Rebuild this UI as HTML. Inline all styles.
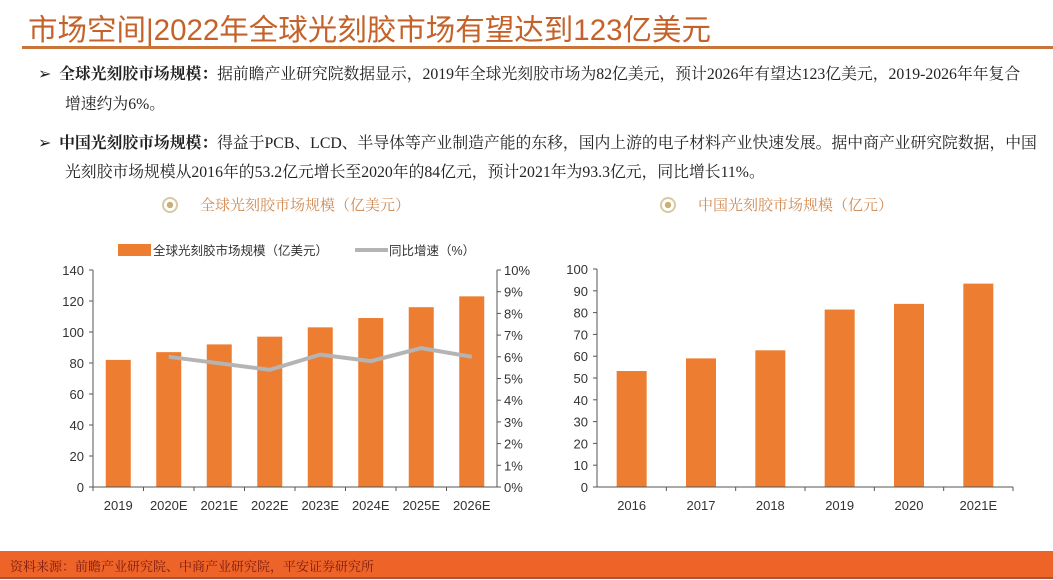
<!DOCTYPE html>
<html><head><meta charset="utf-8"><style>
body{margin:0;width:1053px;height:580px;overflow:hidden;background:#fff;font-family:"Liberation Sans","Noto Sans CJK SC",sans-serif;position:relative}
.abs{position:absolute;white-space:nowrap}
.p{font-family:"Liberation Serif","Noto Serif CJK SC",serif;font-size:15.8px;color:#222}
</style></head><body>
<div class="abs" style="left:28px;top:7px;font-size:29.5px;color:#c4622a;font-family:'Liberation Sans','Noto Sans CJK SC',sans-serif">市场空间|2022年全球光刻胶市场有望达到123亿美元</div>
<div class="abs" style="left:22px;top:46px;width:1031px;height:3px;background:#c8743a"></div>
<div class="abs p" style="left:38px;top:61px">➢&nbsp;&nbsp;<b>全球光刻胶市场规模：</b>据前瞻产业研究院数据显示，2019年全球光刻胶市场为82亿美元，预计2026年有望达123亿美元，2019-2026年年复合</div>
<div class="abs p" style="left:65px;top:91px">增速约为6%。</div>
<div class="abs p" style="left:38px;top:130px">➢&nbsp;&nbsp;<b>中国光刻胶市场规模：</b>得益于PCB、LCD、半导体等产业制造产能的东移，国内上游的电子材料产业快速发展。据中商产业研究院数据，中国</div>
<div class="abs p" style="left:65px;top:159px">光刻胶市场规模从2016年的53.2亿元增长至2020年的84亿元，预计2021年为93.3亿元，同比增长11%。</div>
<div class="abs" style="left:162px;top:194px;font-size:15px;color:#d08a52;font-family:'Liberation Serif','Noto Serif CJK SC',serif"><span style="display:inline-block;width:12px;height:12px;border:2px solid #d8c9a0;border-radius:50%;vertical-align:-3px;margin-right:22px;background:radial-gradient(#c9b07a 35%,#fff 40%)"></span>全球光刻胶市场规模（亿美元）</div>
<div class="abs" style="left:660px;top:194px;font-size:15px;color:#d08a52;font-family:'Liberation Serif','Noto Serif CJK SC',serif"><span style="display:inline-block;width:12px;height:12px;border:2px solid #d8c9a0;border-radius:50%;vertical-align:-3px;margin-right:22px;background:radial-gradient(#c9b07a 35%,#fff 40%)"></span>中国光刻胶市场规模（亿元）</div>
<svg class="abs" style="left:0;top:0" width="1053" height="580" id="svg"></svg>
<div class="abs" style="left:0;top:551px;width:1053px;height:26px;background:#ee6428;border-bottom:2px solid #a8543a"></div>
<div class="abs" style="left:10px;top:556px;font-size:13px;color:#7a1a10;font-family:'Liberation Serif','Noto Serif CJK SC',serif">资料来源：前瞻产业研究院、中商产业研究院，平安证券研究所</div>
<script>
const gCats=["2019","2020E","2021E","2022E","2023E","2024E","2025E","2026E"];
const gVals=[82,87,92,97,103,109,116,123];
const gGrowth=[null,6.0,5.7,5.4,6.1,5.8,6.4,6.0];
const gTicks=[0,20,40,60,80,100,120,140];
const gPctTicks=[0,1,2,3,4,5,6,7,8,9,10];
const cCats=["2016","2017","2018","2019","2020","2021E"];
const cVals=[53.2,59,62.7,81.4,84,93.3];
const cTicks=[0,10,20,30,40,50,60,70,80,90,100];
const svg=document.getElementById('svg');const NS="http://www.w3.org/2000/svg";
function mk(t,a,txt){const e=document.createElementNS(NS,t);for(const k in a)e.setAttribute(k,a[k]);if(txt!=null)e.textContent=txt;svg.appendChild(e);return e;}
const OR="#ed7d31",TX="#333",F="font-family:'Liberation Sans','Noto Sans CJK SC',sans-serif;font-size:13px";
const L={x0:93,x1:497,y0:487,y1:270};
const ly=v=>L.y0-(v/140)*(L.y0-L.y1), ry=v=>L.y0-(v/10)*(L.y0-L.y1);
const lstep=(L.x1-L.x0)/gCats.length, lx=i=>L.x0+lstep*(i+0.5);
gVals.forEach((v,i)=>{const r=mk('rect',{x:lx(i)-12.5,y:ly(v),width:25,height:L.y0-ly(v),fill:OR});

});
let d="";gGrowth.forEach((v,i)=>{if(v==null)return;d+=(d?"L":"M")+lx(i)+" "+ry(v);});
const ln=mk('path',{d:d,fill:"none",stroke:"#b4b4b4","stroke-width":4,"stroke-linejoin":"round"});


mk('line',{x1:L.x0,y1:L.y1,x2:L.x0,y2:L.y0,stroke:"#555"});
mk('line',{x1:L.x1,y1:L.y1,x2:L.x1,y2:L.y0,stroke:"#555"});
mk('line',{x1:L.x0,y1:L.y0,x2:L.x1,y2:L.y0,stroke:"#555"});
gTicks.forEach(t=>{mk('line',{x1:L.x0-4,y1:ly(t),x2:L.x0,y2:ly(t),stroke:"#555"});
const e=mk('text',{x:L.x0-9,y:ly(t)+5,"text-anchor":"end",fill:TX,style:F},t);

});
gPctTicks.forEach(t=>{mk('line',{x1:L.x1,y1:ry(t),x2:L.x1+4,y2:ry(t),stroke:"#555"});
const e=mk('text',{x:L.x1+7,y:ry(t)+5,fill:TX,style:F},t+"%");

});
gCats.forEach((c,i)=>{mk('line',{x1:L.x0+lstep*i,y1:L.y0,x2:L.x0+lstep*i,y2:L.y0+4,stroke:"#555"});
const e=mk('text',{x:lx(i),y:L.y0+23,"text-anchor":"middle",fill:TX,style:F},c);

});
mk('rect',{x:118,y:244,width:33,height:12,fill:OR});
const lg1=mk('text',{x:153,y:255,fill:TX,style:"font-family:'Liberation Sans','Noto Sans CJK SC',sans-serif;font-size:12.5px"},"全球光刻胶市场规模（亿美元）");


mk('line',{x1:355,y1:250,x2:388,y2:250,stroke:"#b4b4b4","stroke-width":4});
const lg2=mk('text',{x:389,y:255,fill:TX,style:"font-family:'Liberation Sans','Noto Sans CJK SC',sans-serif;font-size:12.5px"},"同比增速（%）");


const R={x0:597,x1:1013,y0:487,y1:269};
const cy=v=>R.y0-(v/100)*(R.y0-R.y1);
const cstep=(R.x1-R.x0)/cCats.length, cx=i=>R.x0+cstep*(i+0.5);
cVals.forEach((v,i)=>{const r=mk('rect',{x:cx(i)-15,y:cy(v),width:30,height:R.y0-cy(v),fill:OR});

});
mk('line',{x1:R.x0,y1:R.y1,x2:R.x0,y2:R.y0,stroke:"#555"});
mk('line',{x1:R.x0,y1:R.y0,x2:R.x1,y2:R.y0,stroke:"#555"});
cTicks.forEach(t=>{mk('line',{x1:R.x0-4,y1:cy(t),x2:R.x0,y2:cy(t),stroke:"#555"});
const e=mk('text',{x:R.x0-9,y:cy(t)+5,"text-anchor":"end",fill:TX,style:F},t);

});
cCats.forEach((c,i)=>{mk('line',{x1:R.x0+cstep*(i+1),y1:R.y0,x2:R.x0+cstep*(i+1),y2:R.y0+4,stroke:"#555"});
const e=mk('text',{x:cx(i),y:R.y0+23,"text-anchor":"middle",fill:TX,style:F},c);

});
</script>
</body></html>
